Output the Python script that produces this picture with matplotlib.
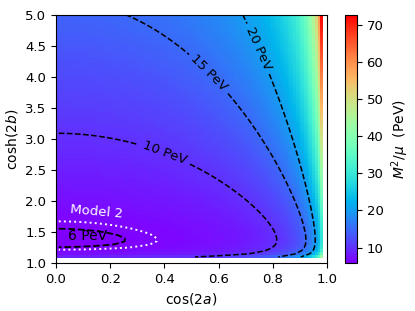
import numpy as np
import matplotlib
matplotlib.use('Agg')
import matplotlib.pyplot as plt

# grid in cos(2a), cosh(2b)
cos2a = np.arange(0.01, 0.985, 0.01)
cosh2b = np.arange(1.1, 5.01, 0.05)

# fitted shape of M^2/mu (PeV): g(cosh2b) / sin(2a)
g_amp, g_pow, g_pole, g_off = 6.95, 0.6, 1.055, -3.80

levels = [6, 10, 15, 20]
level_names = {6: '6 PeV', 10: '10 PeV', 15: '15 PeV', 20: '20 PeV'}
model2_level = 6.25
cbar_ticks = [10, 20, 30, 40, 50, 60, 70]

X, Y = np.meshgrid(cos2a, cosh2b)
G = g_amp * Y**g_pow + g_pole / (Y**2 - 1) + g_off
F = G / np.sqrt(1 - X**2)

fig = plt.figure(figsize=(4.15, 3.11), dpi=100)
ax = fig.add_axes([0.135, 0.154, 0.653, 0.799])
cax = fig.add_axes([0.831, 0.154, 0.029, 0.799])

pc = ax.pcolormesh(X, Y, F, cmap='rainbow', shading='nearest')
ax.contour(X, Y, F, levels=levels[:1], colors='k', linestyles='--', linewidths=1.3)
cs = ax.contour(X, Y, F, levels=levels[1:], colors='k', linestyles='--', linewidths=1.1)
ax.clabel(cs, fmt=level_names, fontsize=9.5, inline=True,
          manual=[(0.39, 2.64), (0.53, 3.9), (0.71, 4.38)])
ax.text(0.045, 1.44, level_names[6], color='k', fontsize=10, ha='left', va='center')
ax.contour(X, Y, F, levels=[model2_level], colors='white', linestyles=':', linewidths=1.4)
ax.text(0.05, 1.83, 'Model 2', color='white', fontsize=9.5, rotation=-5,
        ha='left', va='center')

ax.set_xlim(0, 1)
ax.set_ylim(1, 5)
ax.set_xticks([0.0, 0.2, 0.4, 0.6, 0.8, 1.0])
ax.set_yticks(np.arange(1.0, 5.01, 0.5))
ax.set_xlabel('cos(2$a$)', fontsize=10)
ax.set_ylabel('cosh(2$b$)', fontsize=10)
ax.tick_params(labelsize=9.5)

cb = fig.colorbar(pc, cax=cax, ticks=cbar_ticks)
cb.set_label(r'$M^2/\mu$  (PeV)', fontsize=10)
cb.ax.tick_params(labelsize=9.5)

fig.savefig('out.png', dpi=100)
